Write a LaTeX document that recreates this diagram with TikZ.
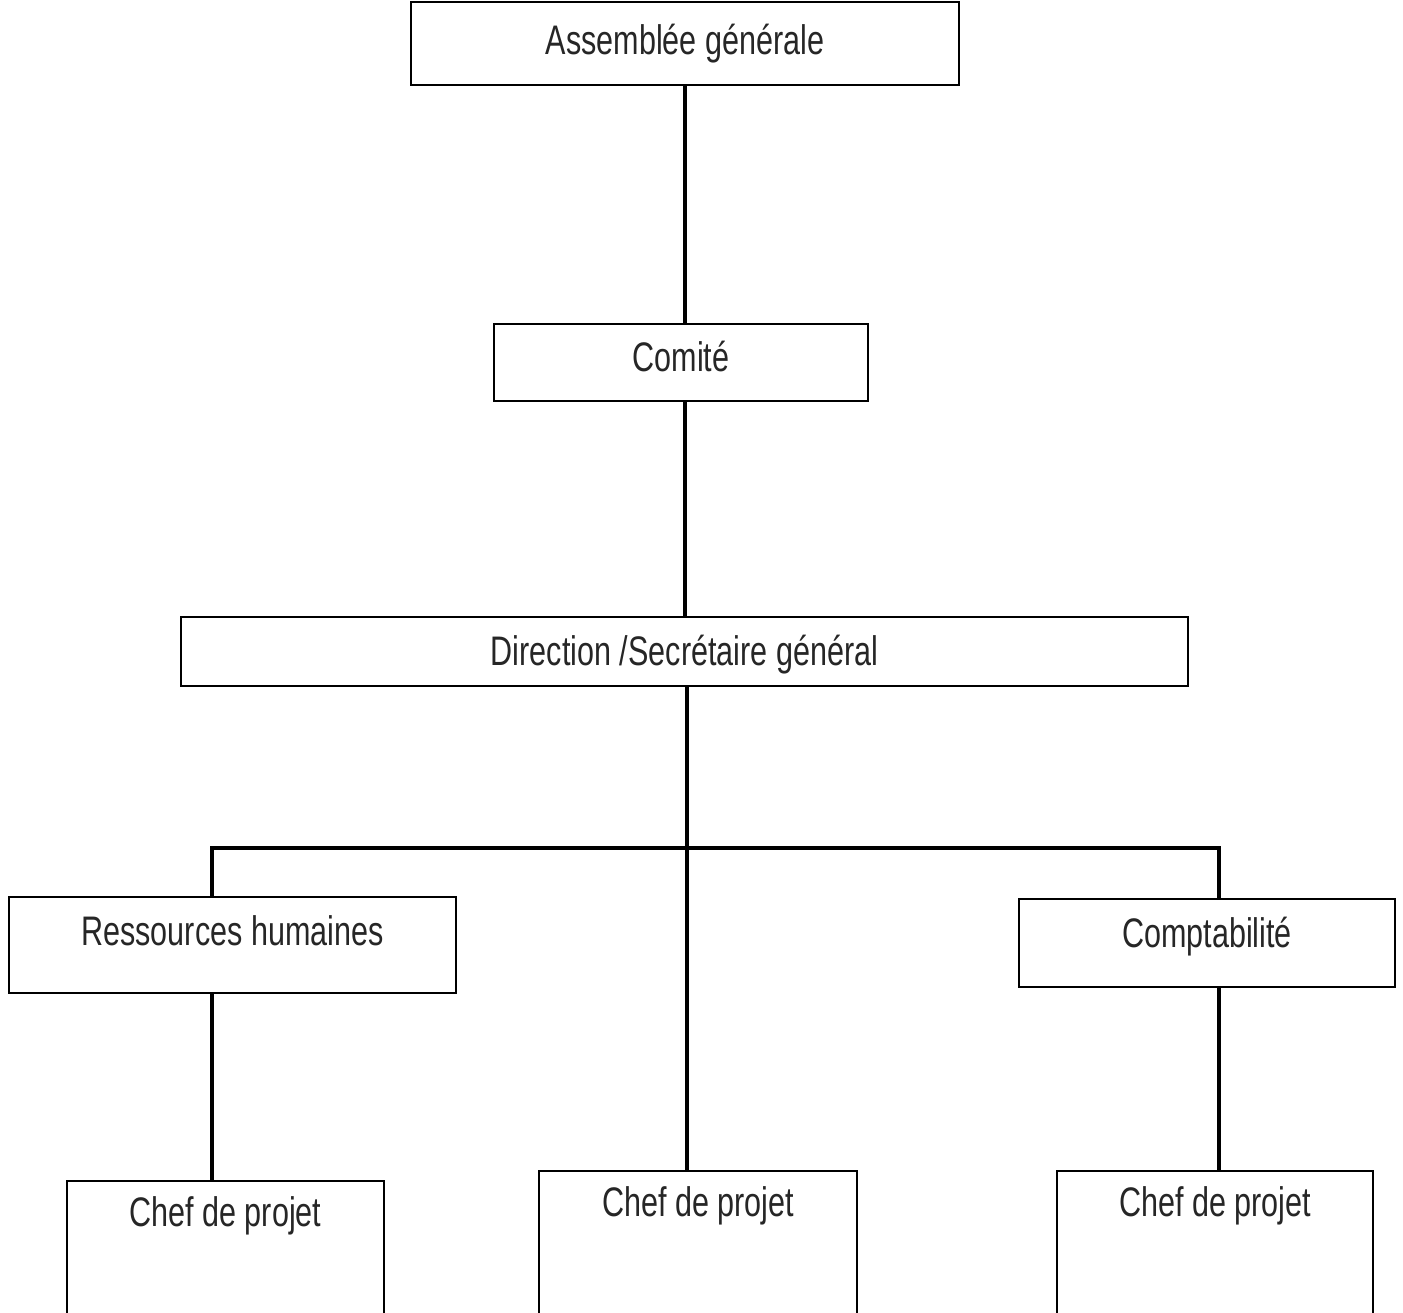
\documentclass[tikz,border=0pt]{standalone}
\usepackage{fontspec}
\setmainfont{Liberation Sans}[FakeStretch=0.74]
\usepackage{tikz}

\tikzset{
	unitbox/.style={draw,line width=0.8pt,inner sep=0pt,text=black!85,font=\fontsize{23.5}{28}\selectfont},
	link/.style={line width=2.4pt}
}

\begin{document}
\begin{tikzpicture}[x=0.02cm,y=-0.02cm]
	\useasboundingbox (0,0) rectangle (1403,1312);
	
	\node (ag) [unitbox,minimum width=10.96cm,text height=1.06cm,text depth=0.60cm] at (685,43.5) {Assemblée générale};
	\node (comite) [unitbox,minimum width=7.48cm,text height=0.94cm,text depth=0.60cm] at (681,362.5) {Comité};
	\node (dir) [unitbox,minimum width=20.14cm,text height=0.96cm,text depth=0.42cm] at (684.5,651.5) {Direction /Secrétaire général};
	\node (rh) [unitbox,minimum width=8.94cm,text height=0.96cm,text depth=0.96cm] at (232.5,945) {Ressources humaines};
	\node (compta) [unitbox,minimum width=7.52cm,text height=0.96cm,text depth=0.80cm] at (1207,943) {Comptabilité};
	\node (chef1) [unitbox,minimum width=6.34cm,text height=0.90cm,text depth=2.08cm] at (225.5,1255.5) {Chef de projet};
	\node (chef2) [unitbox,minimum width=6.36cm,text height=0.90cm,text depth=2.28cm] at (698,1250.5) {Chef de projet};
	\node (chef3) [unitbox,minimum width=6.32cm,text height=0.90cm,text depth=2.28cm] at (1215,1250.5) {Chef de projet};
	
	\coordinate (busl) at (212,848);
	\coordinate (busr) at (1219,848);
	\coordinate (busm) at (687,848);
	
	\draw [link] (ag.south) -- (ag.south |- comite.north);
	\draw [link] (ag.south |- comite.south) -- (ag.south |- dir.north);
	\draw [link] (dir.south -| busm) -- (chef2.north -| busm);
	\draw [link] (rh.north -| busl) -- (busl) -- (busr) -- (compta.north -| busr);
	\draw [link] (rh.south -| busl) -- (chef1.north -| busl);
	\draw [link] (compta.south -| busr) -- (chef3.north -| busr);
	
\end{tikzpicture}
\end{document}
